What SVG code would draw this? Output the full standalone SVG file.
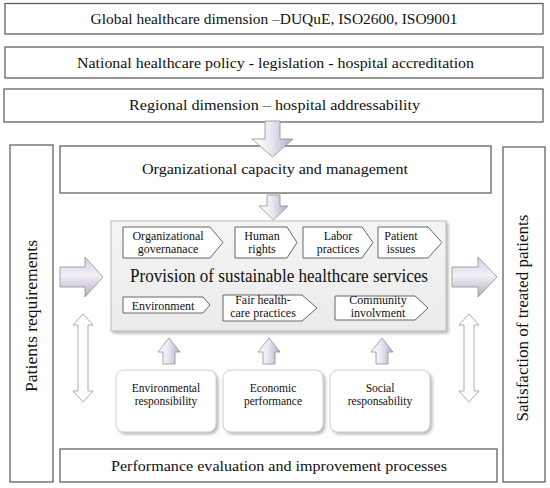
<svg xmlns="http://www.w3.org/2000/svg" width="550" height="488" viewBox="0 0 550 488">
<defs>
<linearGradient id="gv" x1="0" y1="0" x2="1" y2="0">
<stop offset="0" stop-color="#ffffff"/>
<stop offset="0.45" stop-color="#ece8f2"/>
<stop offset="1" stop-color="#b3aac5"/>
</linearGradient>
<linearGradient id="gh" x1="0" y1="0" x2="0" y2="1">
<stop offset="0" stop-color="#d4cde0"/>
<stop offset="0.45" stop-color="#f3f0f7"/>
<stop offset="1" stop-color="#b6adc7"/>
</linearGradient>
<linearGradient id="gbox" x1="0" y1="0" x2="0" y2="1">
<stop offset="0" stop-color="#f4f4f4"/>
<stop offset="1" stop-color="#ebebeb"/>
</linearGradient>
<filter id="sh" x="-10%" y="-10%" width="130%" height="130%">
<feDropShadow dx="2" dy="2" stdDeviation="1.5" flood-color="#888" flood-opacity="0.6"/>
</filter>
</defs>
<style>
.box{fill:#fff;stroke:#555;stroke-width:1.2}
.t{font-family:"Liberation Serif","Times New Roman",serif;fill:#111;text-anchor:middle}
.big{font-size:15px}
.chev{fill:#fff;stroke:#666;stroke-width:1}
.ct{font-size:12px}
.bt{font-size:11.5px}
.arr{stroke:#8f8f8f;stroke-width:0.8}
.dbl{fill:#fff;stroke:#aaa;stroke-width:1}
.rb{fill:#fff;stroke:#d0d0d0;stroke-width:1}
</style>

<g id="global">
<rect class="box" x="5" y="3.5" width="538" height="30.5"/>
<text class="t big" x="274" y="24" textLength="367" lengthAdjust="spacingAndGlyphs">Global healthcare dimension –DUQuE, ISO2600, ISO9001</text>
</g>
<g id="national">
<rect class="box" x="5" y="47" width="538" height="31"/>
<text class="t big" x="275.5" y="68" textLength="397" lengthAdjust="spacingAndGlyphs">National healthcare policy - legislation - hospital accreditation</text>
</g>
<g id="regional">
<rect class="box" x="4" y="89" width="539" height="33"/>
<text class="t big" x="274.5" y="110" textLength="291" lengthAdjust="spacingAndGlyphs">Regional dimension – hospital addressability</text>
</g>
<g id="patients">
<rect class="box" x="10" y="145" width="43" height="337"/>
<text class="t" font-size="17" transform="translate(37,316) rotate(-90)" textLength="152" lengthAdjust="spacingAndGlyphs">Patients requirements</text>
</g>
<g id="satisfaction">
<rect class="box" x="503" y="147" width="42" height="335"/>
<text class="t" font-size="16" transform="translate(528,318) rotate(-90)" textLength="207" lengthAdjust="spacingAndGlyphs">Satisfaction of treated patients</text>
</g>
<g id="orgcap">
<rect class="box" x="60" y="146" width="431" height="47"/>
<text class="t big" x="275" y="174" textLength="266" lengthAdjust="spacingAndGlyphs">Organizational capacity and management</text>
</g>
<g id="performance">
<rect class="box" x="60" y="449" width="437" height="33"/>
<text class="t big" x="279" y="471" textLength="336" lengthAdjust="spacingAndGlyphs">Performance evaluation and improvement processes</text>
</g>

<g id="provision">
<rect x="111" y="221" width="335" height="110" fill="url(#gbox)" stroke="#bbb" stroke-width="1" filter="url(#sh)"/>
<text class="t" font-size="18" x="279" y="282" textLength="298" lengthAdjust="spacingAndGlyphs">Provision of sustainable healthcare services</text>
</g>
<g id="c-governance">
<polygon class="chev" points="123,227 210,227 223,242.5 210,258 123,258"/>
<text class="t ct" x="168" y="240">Organizational</text>
<text class="t ct" x="168" y="253">governanace</text>
</g>
<g id="c-human">
<polygon class="chev" points="235,227 287,227 297,242.5 287,258 235,258"/>
<text class="t ct" x="262" y="240">Human</text>
<text class="t ct" x="262" y="253">rights</text>
</g>
<g id="c-labor">
<polygon class="chev" points="303,227 362,227 373,242.5 362,258 303,258"/>
<text class="t ct" x="338" y="240">Labor</text>
<text class="t ct" x="338" y="253">practices</text>
</g>
<g id="c-patient">
<polygon class="chev" points="378,227 428,227 442,242.5 428,258 378,258"/>
<text class="t ct" x="401" y="240">Patient</text>
<text class="t ct" x="401" y="253">issues</text>
</g>
<g id="c-environment">
<polygon class="chev" points="123,297 203,297 210,305 203,313 123,313"/>
<text class="t ct" x="163" y="309.5">Environment</text>
</g>
<g id="c-fair">
<polygon class="chev" points="223,295 302,295 317,308 302,321 223,321"/>
<text class="t ct" x="263" y="304">Fair health-</text>
<text class="t ct" x="263" y="317">care practices</text>
</g>
<g id="c-community">
<polygon class="chev" points="335,296 415,296 428,308 415,320 335,320"/>
<text class="t ct" x="378" y="304">Community</text>
<text class="t ct" x="378" y="317">involvment</text>
</g>

<g id="b-environmental">
<rect class="rb" x="116" y="370" width="100" height="62" rx="8" filter="url(#sh)"/>
<text class="t bt" x="166" y="392">Environmental</text>
<text class="t bt" x="166" y="405">responsibility</text>
</g>
<g id="b-economic">
<rect class="rb" x="223" y="370" width="100" height="62" rx="8" filter="url(#sh)"/>
<text class="t bt" x="273" y="392">Economic</text>
<text class="t bt" x="273" y="405">performance</text>
</g>
<g id="b-social">
<rect class="rb" x="330" y="370" width="100" height="62" rx="8" filter="url(#sh)"/>
<text class="t bt" x="380" y="392">Social</text>
<text class="t bt" x="380" y="405">responsability</text>
</g>

<g id="connectors">
<polygon class="arr" fill="url(#gv)" points="265,121 280,121 280,139 293,139 272.5,157 252,139 265,139"/>
<polygon class="arr" fill="url(#gv)" points="267,195 280,195 280,206 288,206 273.5,220 259,206 267,206"/>
<polygon class="arr" fill="url(#gh)" points="60,267 85,267 85,257 103,277 85,297 85,287 60,287"/>
<polygon class="arr" fill="url(#gh)" points="452,267 478,267 478,257 497,277 478,297 478,287 452,287"/>
<polygon class="arr" fill="url(#gv)" points="169,338 180,352 175,352 175,364 163,364 163,352 158,352"/>
<polygon class="arr" fill="url(#gv)" points="269,338 280,352 275,352 275,364 263,364 263,352 258,352"/>
<polygon class="arr" fill="url(#gv)" points="382,338 393,352 388,352 388,364 376,364 376,352 371,352"/>
<polygon class="dbl" points="83,314 93,325 88,325 88,391 93,391 83,402 73,391 78,391 78,325 73,325"/>
<polygon class="dbl" points="469,314 479,325 474,325 474,391 479,391 469,402 459,391 464,391 464,325 459,325"/>
</g>
</svg>
